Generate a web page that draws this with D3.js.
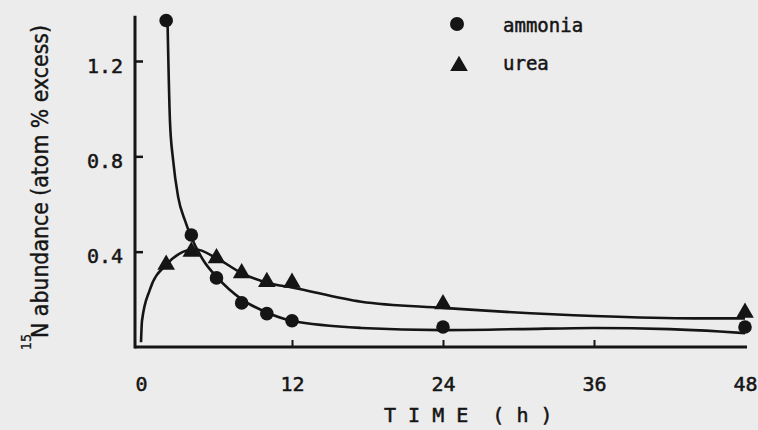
<!DOCTYPE html>
<html>
<head>
<meta charset="utf-8">
<script src="https://cdn.jsdelivr.net/npm/d3@7"></script>
<style>
  html, body { margin: 0; padding: 0; background: #ececec; }
  svg { display: block; }
  text { fill: #151515; }
</style>
</head>
<body>
<svg id="chart" width="758" height="430"></svg>
<script>
// measured points (h, atom % excess)
var ammonia_t = [2, 4, 6, 8, 10, 12, 24, 48];
var ammonia_v = [1.37, 0.47, 0.29, 0.185, 0.14, 0.11, 0.084, 0.084];
var urea_t = [2, 4, 6, 8, 10, 12, 24, 48];
var urea_v = [0.345, 0.40, 0.373, 0.31, 0.273, 0.27, 0.18, 0.144];

// hand-drawn fitted curves
var ammonia_fit_t = [2.1, 2.3, 2.55, 2.95, 3.5, 4, 5, 6, 8, 10, 12, 17.5, 24, 30, 36, 42, 46, 48];
var ammonia_fit_v = [1.39, 0.95, 0.785, 0.63, 0.53, 0.46, 0.36, 0.295, 0.2, 0.145, 0.11, 0.08, 0.071, 0.075, 0.08, 0.075, 0.065, 0.058];
var urea_fit_t = [0, 0.08, 0.7, 2, 3, 4.3, 6, 8, 10, 12, 17.5, 24, 36, 44, 48];
var urea_fit_v = [0.02, 0.11, 0.24, 0.345, 0.39, 0.41, 0.373, 0.31, 0.27, 0.25, 0.19, 0.164, 0.13, 0.12, 0.12];

var x_ticks = [0, 12, 24, 36, 48];
var y_ticks = [0.4, 0.8, 1.2];
var y_top = 1.39;

var ink = '#151515';
var svg = d3.select('#chart');

var x = d3.scaleLinear().domain([0, 48]).range([141, 745]);
var y = d3.scaleLinear().domain([0, 1.2]).range([347, 61]);
var axis_x = x(0) - 6;

// x axis
var gx = svg.append('g')
    .attr('transform', `translate(0,${y(0)})`)
    .call(d3.axisBottom(x).tickValues(x_ticks).tickSizeInner(-7).tickSizeOuter(0).tickPadding(30));
gx.select('.domain').remove();
gx.selectAll('.tick line')
    .attr('stroke', ink).attr('stroke-width', 2)
    .filter(d => d == 0 || d == 48).remove();
gx.selectAll('.tick text')
    .attr('font-family', 'DejaVu Sans Mono').attr('font-size', 20)
    .attr('fill', ink).attr('stroke', ink).attr('stroke-width', 0.5);

svg.append('line')
    .attr('x1', axis_x).attr('x2', x(48) + 2)
    .attr('y1', y(0)).attr('y2', y(0))
    .attr('stroke', ink).attr('stroke-width', 3);

// y axis
var gy = svg.append('g')
    .attr('transform', `translate(${axis_x},0)`)
    .call(d3.axisLeft(y).tickValues(y_ticks).tickSizeInner(-8).tickSizeOuter(0).tickPadding(12)
          .tickFormat(d3.format('.1f')));
gy.select('.domain').remove();
gy.selectAll('.tick line').attr('stroke', ink).attr('stroke-width', 2.5);
gy.selectAll('.tick text')
    .attr('font-family', 'DejaVu Sans Mono').attr('font-size', 20)
    .attr('dy', '0.55em')
    .attr('fill', ink).attr('stroke', ink).attr('stroke-width', 0.5);

svg.append('line')
    .attr('x1', axis_x).attr('x2', axis_x)
    .attr('y1', y(0) + 1.5).attr('y2', y(y_top))
    .attr('stroke', ink).attr('stroke-width', 3);

// fitted curves
var line = d3.line()
    .x(d => x(d[0])).y(d => y(d[1]))
    .curve(d3.curveMonotoneX);

[[ammonia_fit_t, ammonia_fit_v], [urea_fit_t, urea_fit_v]].forEach(s => {
    svg.append('path')
        .datum(d3.zip(s[0], s[1]))
        .attr('fill', 'none')
        .attr('stroke', ink)
        .attr('stroke-width', 2.6)
        .attr('d', line);
});

// markers
var tri = d3.symbol().type(d3.symbolTriangle).size(135);

svg.append('g').selectAll('circle')
    .data(d3.zip(ammonia_t, ammonia_v))
    .join('circle')
    .attr('cx', d => x(d[0])).attr('cy', d => y(d[1]))
    .attr('r', 6.8).attr('fill', ink);

svg.append('g').selectAll('path')
    .data(d3.zip(urea_t, urea_v))
    .join('path')
    .attr('transform', d => `translate(${x(d[0])},${y(d[1])})`)
    .attr('d', tri).attr('fill', ink);

// legend
svg.append('circle').attr('cx', 457).attr('cy', 24).attr('r', 7).attr('fill', ink);
svg.append('path').attr('transform', 'translate(459,66)').attr('d', tri).attr('fill', ink);

svg.append('text').attr('x', 503).attr('y', 32)
    .attr('font-family', 'DejaVu Sans Mono').attr('font-size', 19)
    .attr('stroke', ink).attr('stroke-width', 0.5)
    .text('ammonia');
svg.append('text').attr('x', 503).attr('y', 70)
    .attr('font-family', 'DejaVu Sans Mono').attr('font-size', 19)
    .attr('stroke', ink).attr('stroke-width', 0.5)
    .text('urea');

// axis titles
svg.append('text').attr('x', 384).attr('y', 422)
    .attr('font-family', 'DejaVu Sans Mono').attr('font-size', 20)
    .attr('stroke', ink).attr('stroke-width', 0.5)
    .style('white-space', 'pre')
    .text('T I M E  ( h )');

var ylab = svg.append('g').attr('transform', 'translate(48,338) rotate(-90)');
ylab.append('text').attr('x', 0).attr('y', 0)
    .attr('font-family', 'DejaVu Sans Condensed').attr('font-size', 23)
    .attr('stroke', ink).attr('stroke-width', 0.4)
    .attr('textLength', 313).attr('lengthAdjust', 'spacingAndGlyphs')
    .text('N abundance (atom % excess)');
ylab.append('text').attr('x', -12).attr('y', -17)
    .attr('font-family', 'DejaVu Sans Condensed').attr('font-size', 14)
    .attr('stroke', ink).attr('stroke-width', 0.3)
    .text('15');
</script>
</body>
</html>
